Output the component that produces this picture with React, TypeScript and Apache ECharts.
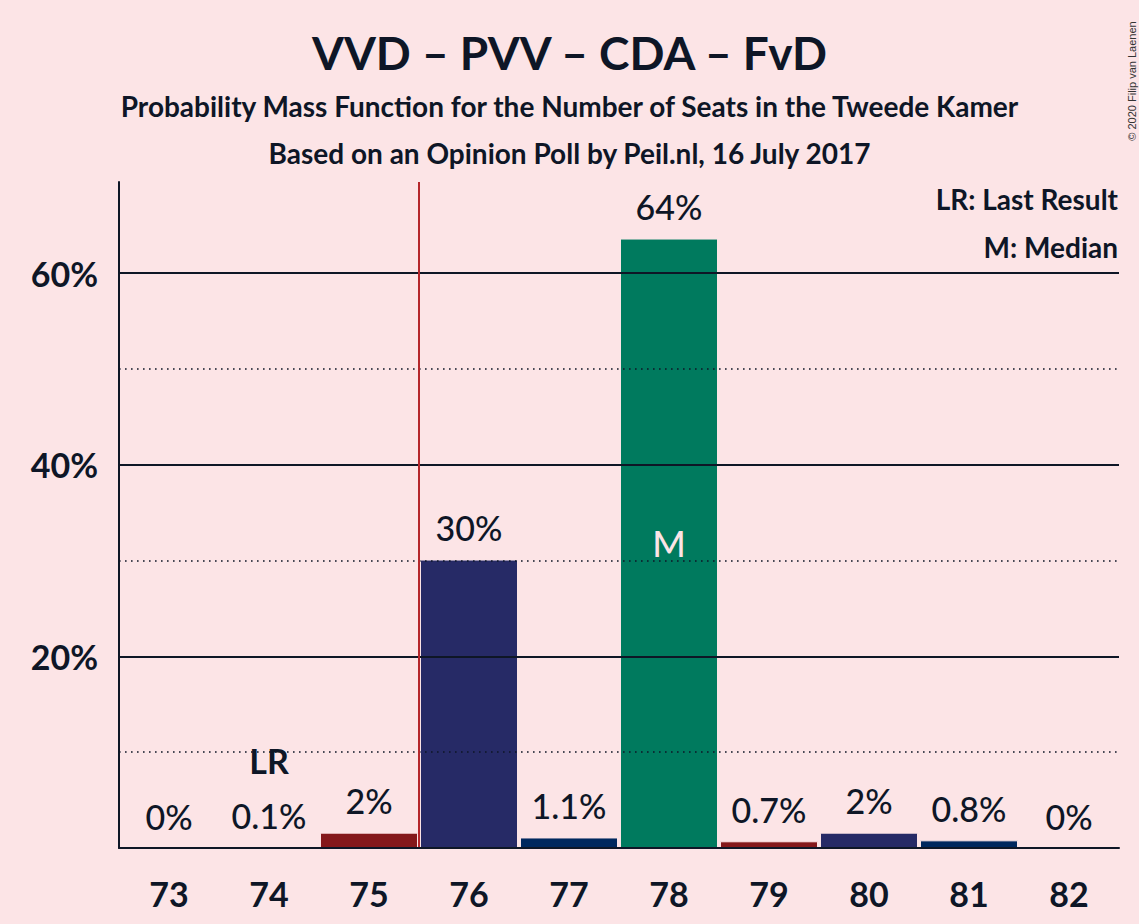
import React, { useEffect, useRef } from "react";
import * as echarts from "echarts";

const seats = ["73", "74", "75", "76", "77", "78", "79", "80", "81", "82"];
const probabilities = [0, 0.1, 1.6, 30.1, 1.1, 63.6, 0.7, 1.6, 0.8, 0];
const valueLabels = ["0%", "0.1%", "2%", "30%", "1.1%", "64%", "0.7%", "2%", "0.8%", "0%"];
const barColors = [
  "#84181b", "#84181b", "#84181b", "#262a66", "#00285e",
  "#007a5e", "#84181b", "#262a66", "#00285e", "#00285e",
];
const lastResultSeat = "74";
const medianSeat = "78";
const majorityLine = 75.5;
const majorTicks = [20, 40, 60];
const minorTicks = [10, 30, 50];
const yMax = 69.5;

const BG = "#fce4e6";
const INK = "#0e1626";
const FONT = "Lato";

const App = () => {
  const chartRef = useRef<HTMLDivElement>(null);

  useEffect(() => {
    document.body.style.margin = "0";
    const chart = echarts.init(chartRef.current as HTMLDivElement, null, { renderer: "svg" });

    const medianIndex = seats.indexOf(medianSeat);

    const option = {
      animation: false,
      backgroundColor: BG,
      textStyle: { fontFamily: FONT },
      title: [
        {
          text: "VVD – PVV – CDA – FvD",
          left: "center",
          top: 24,
          textStyle: { fontFamily: FONT, fontSize: 46, fontWeight: "bold", color: INK },
        },
        {
          text: "Probability Mass Function for the Number of Seats in the Tweede Kamer",
          left: "center",
          top: 87,
          textStyle: { fontFamily: FONT, fontSize: 28, fontWeight: "bold", color: INK },
        },
        {
          text: "Based on an Opinion Poll by Peil.nl, 16 July 2017",
          left: "center",
          top: 134,
          textStyle: { fontFamily: FONT, fontSize: 28, fontWeight: "bold", color: INK },
        },
      ],
      graphic: [
        {
          type: "text",
          right: 21,
          top: 185,
          style: { text: "LR: Last Result", font: `bold 28px ${FONT}`, fill: INK },
        },
        {
          type: "text",
          right: 21,
          top: 233,
          style: { text: "M: Median", font: `bold 28px ${FONT}`, fill: INK },
        },
        {
          type: "text",
          x: 1132,
          y: 81,
          rotation: Math.PI / 2,
          style: {
            text: "© 2020 Filip van Laenen",
            font: "11px 'Liberation Sans'",
            fill: "#333",
            align: "center",
            verticalAlign: "middle",
          },
        },
      ],
      grid: { left: 119, right: 20, top: 182, bottom: 76 },
      xAxis: [
        {
          type: "category",
          data: seats,
          z: 10,
          axisLine: { lineStyle: { color: INK, width: 2 } },
          axisTick: { show: false },
          axisLabel: {
            margin: 28,
            fontFamily: FONT,
            fontSize: 34,
            fontWeight: "bold",
            color: INK,
          },
        },
        { type: "value", min: 72.5, max: 82.5, show: false },
      ],
      yAxis: {
        type: "value",
        min: 0,
        max: yMax,
        interval: 10,
        z: 10,
        axisLine: { show: true, lineStyle: { color: INK, width: 2 } },
        axisTick: { show: false },
        splitLine: { show: false },
        axisLabel: {
          margin: 21,
          fontFamily: FONT,
          fontSize: 34,
          fontWeight: "bold",
          color: INK,
          formatter: (v: number) => (majorTicks.includes(v) ? `${v}%` : ""),
        },
      },
      series: [
        {
          type: "line",
          xAxisIndex: 1,
          data: [],
          z: 1,
          silent: true,
          markLine: {
            silent: true,
            symbol: "none",
            label: { show: false },
            data: [
              ...majorTicks.map((v) => ({
                yAxis: v,
                lineStyle: { color: INK, width: 1.8, type: "solid" },
              })),
              ...minorTicks.map((v) => ({
                yAxis: v,
                lineStyle: { color: INK, width: 1.6, type: [1.6, 4.4] },
              })),
            ],
          },
        },
        {
          type: "bar",
          barWidth: "98%",
          z: 2,
          data: probabilities.map((p, i) => ({
            value: p,
            itemStyle: {
              color: barColors[i],
              borderColor: BG,
              borderWidth: p > 0 ? 1 : 0,
            },
          })),
          label: {
            show: true,
            position: "top",
            distance: 15,
            formatter: (params: any) => {
              const txt = valueLabels[params.dataIndex];
              return seats[params.dataIndex] === lastResultSeat
                ? `{lr|LR}\n{v|${txt}}`
                : `{v|${txt}}`;
            },
            rich: {
              v: { fontFamily: FONT, fontSize: 34, fontWeight: 500, color: INK, lineHeight: 34 },
              lr: {
                fontFamily: FONT,
                fontSize: 34,
                fontWeight: "bold",
                color: INK,
                lineHeight: 76,
              },
            },
          },
          markPoint: {
            silent: true,
            symbolSize: 0,
            data: [
              {
                coord: [medianIndex, probabilities[medianIndex] / 2],
                label: {
                  show: true,
                  position: "inside",
                  formatter: "M",
                  fontFamily: FONT,
                  fontSize: 36,
                  fontWeight: 500,
                  color: BG,
                },
              },
            ],
          },
        },
        {
          type: "line",
          xAxisIndex: 1,
          data: [],
          z: 3,
          silent: true,
          markLine: {
            silent: true,
            symbol: "none",
            label: { show: false },
            lineStyle: { color: "#b5262b", width: 2, type: "solid" },
            data: [{ xAxis: majorityLine }],
          },
        },
      ],
    };

    chart.setOption(option as any);
    return () => {
      chart.dispose();
    };
  }, []);

  return <div ref={chartRef} style={{ width: "1139px", height: "924px" }} />;
};

export default App;
